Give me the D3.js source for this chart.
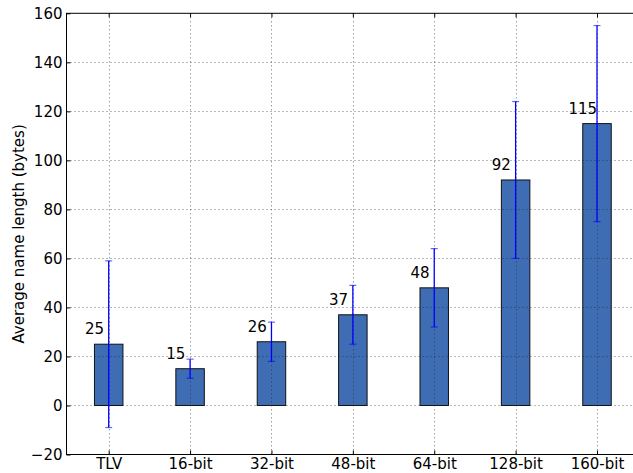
<!DOCTYPE html>
<html>
<head>
<meta charset="utf-8">
<script src="https://cdn.jsdelivr.net/npm/d3@7/dist/d3.min.js"></script>
<style>
  html, body { margin: 0; padding: 0; background: #fff; }
  svg { display: block; }
  text { font-family: "DejaVu Sans", sans-serif; fill: #000; }
</style>
</head>
<body>
<script>
// Average name length per encoding, with standard deviation
const categories = ["TLV", "16-bit", "32-bit", "48-bit", "64-bit", "128-bit", "160-bit"];
const meanLength = [25, 15, 26, 37, 48, 92, 115];
const stdDev = [34, 3.9, 8, 12, 16, 32, 40];
const yTicks = [-20, 0, 20, 40, 60, 80, 100, 120, 140, 160];

const W = 633, H = 473;
const FS = "15px";
const plot = { left: 66.5, right: 639.5, top: 13.3, bottom: 454.5 };

const svg = d3.select("body").append("svg")
  .attr("width", W).attr("height", H);

const y = d3.scaleLinear().domain([-20, 160]).range([plot.bottom, plot.top]);
const x = d3.scalePoint().domain(categories)
  .range([108.7, 597]);
const step = x.step();
const barW = step * 0.35;

const data = categories.map((c, i) => ({ c, v: meanLength[i], e: stdDev[i] }));

// bars
svg.append("g").selectAll("rect").data(data).join("rect")
  .attr("x", d => x(d.c) - barW / 2)
  .attr("y", d => y(d.v))
  .attr("width", barW)
  .attr("height", d => y(0) - y(d.v))
  .attr("fill", "#3f6db4")
  .attr("stroke", "#111")
  .attr("stroke-width", 1);

// dotted grid drawn over the bars
const grid = svg.append("g")
  .attr("stroke", "#222").attr("stroke-width", 0.8)
  .attr("stroke-dasharray", "1,3").attr("opacity", 0.8);
grid.selectAll("line.h").data(yTicks.slice(1, -1)).join("line")
  .attr("x1", plot.left).attr("x2", plot.right)
  .attr("y1", d => Math.round(y(d)) + 0.5).attr("y2", d => Math.round(y(d)) + 0.5);
grid.selectAll("line.v").data(categories).join("line")
  .attr("x1", d => Math.round(x(d)) + 0.5).attr("x2", d => Math.round(x(d)) + 0.5)
  .attr("y1", plot.top).attr("y2", plot.bottom);

// error bars
const err = svg.append("g").attr("stroke", "#0000ff");
err.selectAll("line.bar").data(data).join("line")
  .attr("x1", d => x(d.c)).attr("x2", d => x(d.c))
  .attr("y1", d => y(d.v + d.e)).attr("y2", d => y(d.v - d.e))
  .attr("stroke-width", 1.3);
["top", "bot"].forEach(k => {
  err.selectAll("line.cap" + k).data(data).join("line")
    .attr("x1", d => x(d.c) - 3.5).attr("x2", d => x(d.c) + 3.5)
    .attr("y1", d => y(k === "top" ? d.v + d.e : d.v - d.e))
    .attr("y2", d => y(k === "top" ? d.v + d.e : d.v - d.e))
    .attr("stroke-width", 1.2).attr("opacity", 0.6);
});

// value labels above the bar's left edge
svg.append("g").selectAll("text").data(data).join("text")
  .attr("x", d => x(d.c) - barW / 2)
  .attr("y", d => y(d.v) - 10)
  .attr("text-anchor", "middle")
  .attr("font-size", FS)
  .text(d => d3.format("d")(d.v));

// frame
svg.append("rect")
  .attr("x", plot.left).attr("y", plot.top)
  .attr("width", plot.right - plot.left).attr("height", plot.bottom - plot.top)
  .attr("fill", "none").attr("stroke", "#000").attr("stroke-width", 1);

// axes with inward ticks
const fmt = d => d < 0 ? "\u2212" + Math.abs(d) : String(d);
const yAxis = svg.append("g").attr("transform", `translate(${plot.left},0)`)
  .call(d3.axisLeft(y).tickValues(yTicks).tickFormat(fmt).tickSizeInner(-4).tickSizeOuter(0).tickPadding(4));
const xAxis = svg.append("g").attr("transform", `translate(0,${plot.bottom})`)
  .call(d3.axisBottom(x).tickSizeInner(-4).tickSizeOuter(0).tickPadding(4));
const xTop = svg.append("g").attr("transform", `translate(0,${plot.top})`)
  .call(d3.axisTop(x).tickSizeInner(-4).tickSizeOuter(0).tickFormat(""));
const yRight = svg.append("g").attr("transform", `translate(${plot.right},0)`)
  .call(d3.axisRight(y).tickValues(yTicks).tickSizeInner(-4).tickSizeOuter(0).tickFormat(""));
[yAxis, xAxis, xTop, yRight].forEach(g => {
  g.select(".domain").remove();
  g.selectAll("line").attr("stroke", "#000");
  g.selectAll("text").attr("font-size", FS).attr("font-family", "DejaVu Sans, sans-serif").attr("fill", "#000");
});

// y axis title
svg.append("text")
  .attr("transform", `translate(23.5,${(plot.top + plot.bottom) / 2}) rotate(-90)`)
  .attr("text-anchor", "middle")
  .attr("font-size", FS)
  .text("Average name length (bytes)");
</script>
</body>
</html>
